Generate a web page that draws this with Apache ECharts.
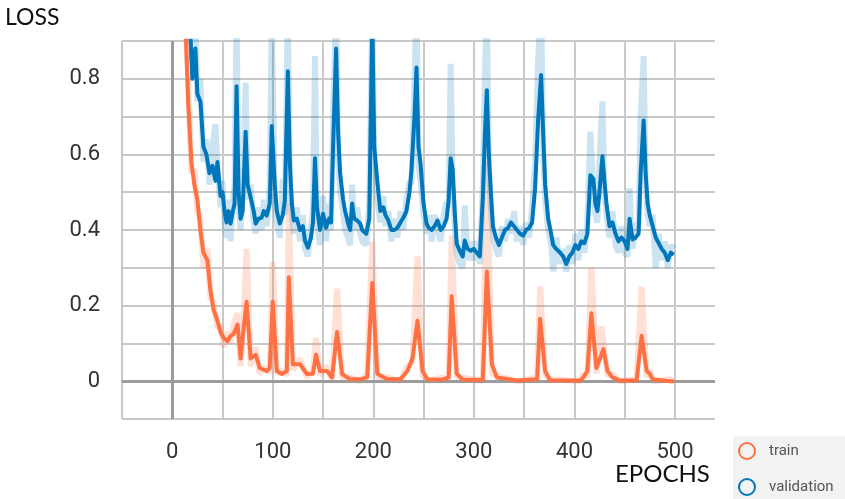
<!DOCTYPE html>
<html>
<head>
<meta charset="utf-8">
<script src="https://cdn.jsdelivr.net/npm/echarts@6/dist/echarts.min.js"></script>
<style>
html,body{margin:0;padding:0;background:#fff;}
#chart{width:845px;height:499px;}
</style>
</head>
<body>
<div id="chart"></div>
<script>
// ---------- data ----------
const valEpochs = [14,18,20,23,25,28,31,34,37,40,43,45,48,50,52,54,56,58,60,62,64,66,68,70,73,75,78,81,83,86,89,91,94,97,99,102,104,107,110,112,115,117,119,121,124,127,130,132,135,138,140,142,144,147,150,153,156,158,160,163,165,167,170,172,175,177,179,181,184,187,189,193,196,199,201,204,207,210,212,215,218,221,224,227,230,233,236,238,241,243,245,247,250,253,255,258,261,264,267,270,273,275,277,279,281,283,286,289,291,294,297,300,303,306,309,311,313,315,317,319,322,325,328,331,334,337,340,343,346,349,352,355,358,361,364,367,369,371,374,377,379,382,386,389,392,395,398,401,404,407,410,413,416,419,421,423,425,428,430,432,435,438,441,444,447,450,453,455,458,461,464,466,469,471,473,475,478,481,484,487,490,493,496,499];
const valSmooth = [1.0,0.92,0.80,0.88,0.76,0.74,0.62,0.60,0.55,0.57,0.53,0.58,0.49,0.50,0.45,0.42,0.45,0.417,0.446,0.47,0.78,0.50,0.43,0.45,0.66,0.52,0.486,0.45,0.417,0.43,0.433,0.45,0.438,0.47,0.675,0.52,0.45,0.417,0.44,0.478,0.82,0.58,0.47,0.425,0.43,0.40,0.41,0.372,0.353,0.38,0.42,0.59,0.46,0.40,0.443,0.406,0.43,0.42,0.62,0.88,0.66,0.55,0.48,0.45,0.417,0.40,0.47,0.43,0.425,0.417,0.40,0.39,0.43,0.95,0.62,0.53,0.45,0.46,0.44,0.425,0.40,0.40,0.406,0.42,0.433,0.45,0.50,0.558,0.70,0.83,0.62,0.576,0.47,0.417,0.406,0.40,0.41,0.425,0.40,0.41,0.43,0.48,0.59,0.56,0.45,0.364,0.345,0.33,0.372,0.35,0.345,0.35,0.34,0.33,0.486,0.65,0.77,0.60,0.50,0.41,0.38,0.36,0.38,0.40,0.405,0.42,0.41,0.40,0.39,0.385,0.40,0.405,0.42,0.51,0.69,0.81,0.66,0.52,0.43,0.39,0.36,0.35,0.34,0.33,0.31,0.33,0.34,0.36,0.35,0.37,0.365,0.39,0.545,0.535,0.47,0.45,0.50,0.595,0.53,0.47,0.41,0.42,0.39,0.37,0.38,0.37,0.35,0.43,0.375,0.38,0.39,0.55,0.69,0.55,0.47,0.44,0.41,0.38,0.365,0.35,0.34,0.32,0.34,0.335];
const valRaw = [1.0,1.0,0.85,0.98,0.74,0.80,0.58,0.64,0.52,0.62,0.68,0.56,0.46,0.53,0.42,0.38,0.48,0.37,0.47,0.52,0.98,0.46,0.40,0.48,0.79,0.48,0.52,0.42,0.39,0.46,0.40,0.48,0.41,0.52,0.98,0.48,0.42,0.38,0.535,0.44,1.0,0.52,0.44,0.39,0.46,0.37,0.44,0.35,0.33,0.41,0.45,0.86,0.42,0.36,0.49,0.37,0.47,0.40,0.70,1.0,0.60,0.50,0.45,0.40,0.38,0.36,0.52,0.40,0.46,0.39,0.37,0.36,0.47,1.0,0.58,0.48,0.42,0.49,0.41,0.45,0.37,0.43,0.38,0.45,0.40,0.48,0.53,0.52,0.80,1.0,0.57,0.53,0.44,0.39,0.44,0.37,0.44,0.40,0.37,0.44,0.475,0.46,0.84,0.52,0.41,0.34,0.31,0.30,0.465,0.32,0.37,0.32,0.37,0.31,0.52,0.80,1.0,0.56,0.46,0.38,0.35,0.33,0.41,0.37,0.43,0.39,0.45,0.37,0.41,0.36,0.42,0.38,0.46,0.58,0.85,1.0,0.62,0.48,0.40,0.36,0.29,0.38,0.31,0.35,0.29,0.36,0.31,0.39,0.32,0.40,0.34,0.42,0.66,0.50,0.44,0.42,0.58,0.74,0.49,0.44,0.38,0.45,0.36,0.34,0.41,0.34,0.33,0.51,0.35,0.41,0.42,0.70,0.86,0.52,0.44,0.41,0.44,0.30,0.39,0.32,0.37,0.30,0.36,0.35];

const trainEpochs = [13,16,19,22,25,28,31,35,38,41,45,48,51,55,58,61,65,68,71,74,78,83,87,94,97,100,104,109,114,116,120,127,134,140,143,147,154,159,164,169,177,187,194,199,204,214,227,234,239,244,249,254,269,275,278,283,289,309,313,318,323,343,363,366,371,376,406,409,413,417,422,427,429,433,438,445,462,467,472,475,478,495,499];
const trainSmooth = [0.95,0.73,0.58,0.52,0.48,0.40,0.34,0.32,0.24,0.19,0.16,0.13,0.115,0.106,0.12,0.125,0.15,0.06,0.14,0.21,0.06,0.07,0.035,0.027,0.035,0.21,0.027,0.019,0.027,0.275,0.045,0.045,0.019,0.02,0.07,0.027,0.027,0.01,0.13,0.019,0.005,0.005,0.01,0.26,0.02,0.005,0.005,0.027,0.06,0.16,0.027,0.005,0.004,0.01,0.225,0.02,0.004,0.004,0.29,0.045,0.01,0.002,0.005,0.165,0.027,0.002,0.002,0.01,0.027,0.18,0.035,0.07,0.085,0.027,0.01,0.002,0.002,0.12,0.027,0.02,0.005,0.0,0.0];
const trainRaw = [1.0,0.78,0.55,0.56,0.45,0.43,0.30,0.35,0.22,0.21,0.14,0.15,0.09,0.13,0.10,0.15,0.18,0.04,0.17,0.35,0.04,0.09,0.02,0.04,0.02,0.315,0.02,0.03,0.015,0.47,0.03,0.06,0.01,0.03,0.115,0.015,0.04,0.005,0.245,0.01,0.01,0.0,0.02,0.37,0.01,0.01,0.0,0.04,0.05,0.33,0.015,0.0,0.01,0.0,0.385,0.01,0.01,0.0,0.58,0.02,0.015,0.0,0.01,0.25,0.015,0.005,0.0,0.02,0.01,0.30,0.02,0.145,0.10,0.015,0.02,0.0,0.005,0.25,0.01,0.03,0.0,0.005,0.0];

const xTickLabels = ['0','100','200','300','400','500'];
const yTickLabels = ['0','0.2','0.4','0.6','0.8'];
const seriesNames = ['train','validation'];

// ---------- chart ----------
const zip = (xs, ys) => xs.map((x, i) => [x, ys[i]]);
const ORANGE = '#ff7043', BLUE = '#0077bb', GRID = '#c9c9c9', FONT = 'Roboto';

const chart = echarts.init(document.getElementById('chart'), null, {renderer: 'canvas'});
chart.setOption({
  animation: false,
  backgroundColor: '#ffffff',
  title: [
    {text: 'LOSS', left: 0, top: 1, textStyle: {fontFamily: 'Lato', fontSize: 23, fontWeight: 'normal', color: '#111'}},
    {text: 'EPOCHS', left: 610, top: 457, textStyle: {fontFamily: 'Lato', fontSize: 24, fontWeight: 'normal', color: '#111'}}
  ],
  graphic: [
    {type: 'rect', x: 733, y: 436, z: -10, silent: true,
     shape: {x: 0, y: 0, width: 112, height: 63}, style: {fill: '#f2f2f2'}}
  ],
  legend: {
    orient: 'vertical', left: 733, top: 436,
    padding: [6, 12, 2, 5],
    itemWidth: 16, itemHeight: 16, itemGap: 18,
    icon: 'circle',
    textStyle: {fontFamily: FONT, fontSize: 15, color: '#555', padding: [0, 0, 0, 9]},
    data: [
      {name: seriesNames[0], itemStyle: {color: 'rgba(0,0,0,0)', borderColor: ORANGE, borderWidth: 2}},
      {name: seriesNames[1], itemStyle: {color: 'rgba(0,0,0,0)', borderColor: BLUE, borderWidth: 2}}
    ]
  },
  grid: [
    {left: 122, right: 130, top: 41, bottom: 80},
    {left: 122, right: 170, top: 41, bottom: 80}
  ],
  xAxis: [
    {gridIndex: 0, type: 'value', min: -50, max: 540,
     axisLine: {show: false}, axisTick: {show: false}, axisLabel: {show: false}, splitLine: {show: false}},
    {gridIndex: 1, type: 'value', min: -50, max: 500, interval: 50,
     axisLine: {show: false},
     axisTick: {show: true, length: 11, lineStyle: {color: GRID, width: 2}},
     axisLabel: {margin: 22, fontFamily: FONT, fontSize: 22, color: '#333',
       formatter: v => xTickLabels.includes(String(v)) ? String(v) : ''},
     splitLine: {show: true, lineStyle: {color: GRID, width: 2}}}
  ],
  yAxis: [
    {gridIndex: 0, type: 'value', min: -0.1, max: 0.9, interval: 0.1,
     axisLine: {show: false},
     axisTick: {show: true, length: 11, lineStyle: {color: GRID, width: 2}},
     axisLabel: {margin: 22, fontFamily: FONT, fontSize: 22, color: '#333',
       formatter: v => {
         const k = Math.round(v * 10);
         const s = k === 0 ? '0' : (k / 10).toFixed(1);
         return yTickLabels.includes(s) ? s : '';
       }},
     splitLine: {show: true, lineStyle: {color: GRID, width: 2}}},
    {gridIndex: 1, type: 'value', min: -0.1, max: 0.9, interval: 0.1, show: false}
  ],
  series: [
    {name: seriesNames[0], type: 'line', xAxisIndex: 0, yAxisIndex: 0, z: 2,
     data: zip(trainEpochs, trainRaw), showSymbol: false, silent: true,
     itemStyle: {color: ORANGE},
     lineStyle: {color: ORANGE, width: 6, opacity: 0.22},
     markLine: {silent: true, symbol: ['none', 'none'], label: {show: false},
       lineStyle: {color: '#9c9c9c', width: 3, type: 'solid'},
       data: [{yAxis: 0}, {xAxis: 0}]}},
    {name: seriesNames[1], type: 'line', xAxisIndex: 0, yAxisIndex: 0, z: 3,
     data: zip(valEpochs, valRaw), showSymbol: false, silent: true,
     itemStyle: {color: BLUE},
     lineStyle: {color: BLUE, width: 6, opacity: 0.2}},
    {name: seriesNames[1], type: 'line', xAxisIndex: 0, yAxisIndex: 0, z: 4,
     data: zip(valEpochs, valSmooth), showSymbol: false, silent: true,
     itemStyle: {color: BLUE},
     lineStyle: {color: BLUE, width: 4, join: 'round'}},
    {name: seriesNames[0], type: 'line', xAxisIndex: 0, yAxisIndex: 0, z: 5,
     data: zip(trainEpochs, trainSmooth), showSymbol: false, silent: true,
     itemStyle: {color: ORANGE},
     lineStyle: {color: ORANGE, width: 4, join: 'round'}}
  ]
});
</script>
</body>
</html>
